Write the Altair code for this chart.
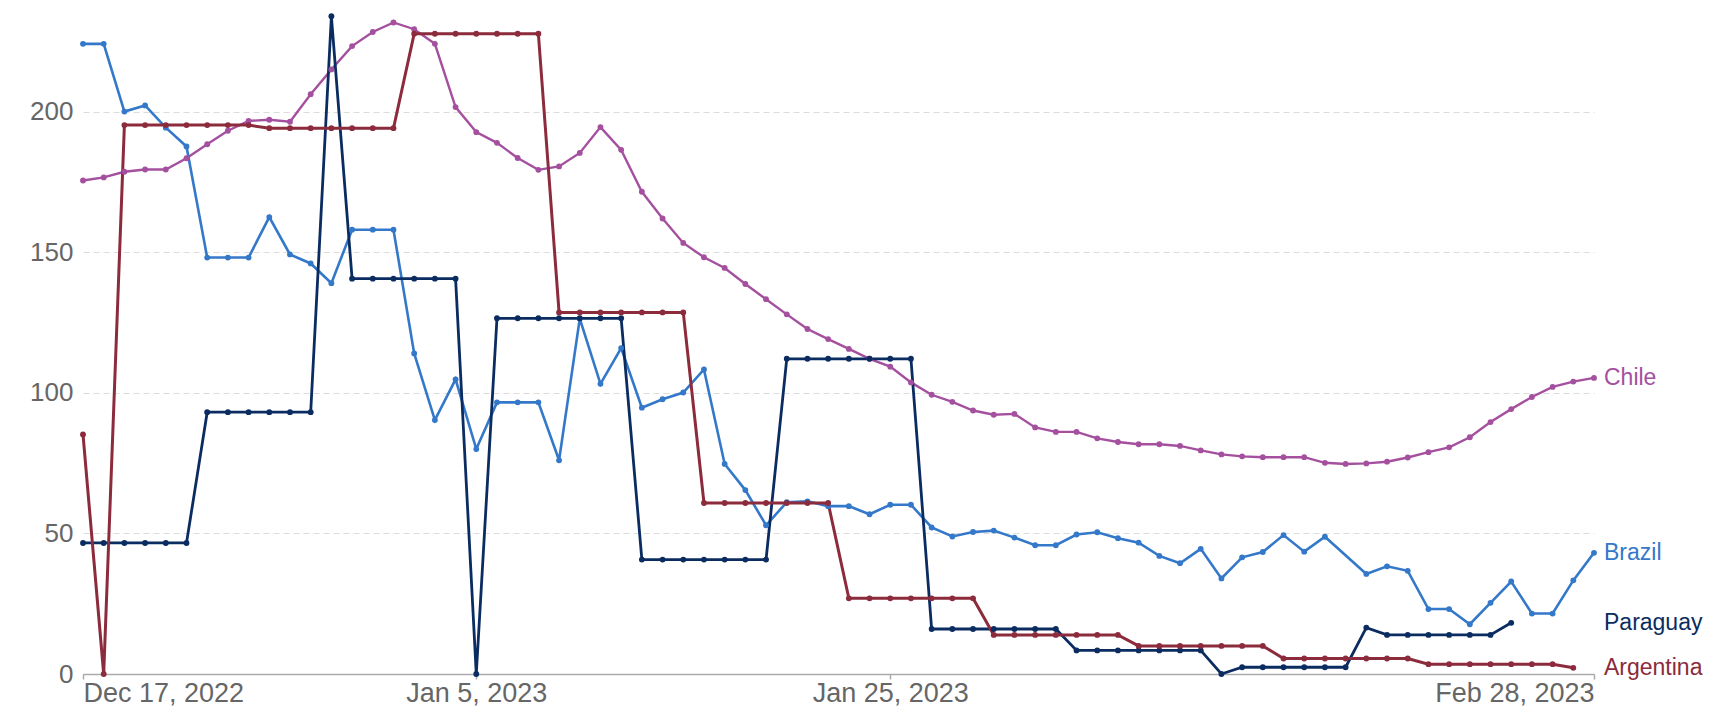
import altair as alt
import pandas as pd

# ---- data ----
start_date = "2022-12-17"
n_days = 74
dates = pd.date_range(start_date, periods=n_days, freq="D").strftime("%Y-%m-%d").tolist()

countries = ["Chile", "Brazil", "Paraguay", "Argentina"]
colors = ["#a4509f", "#3478c9", "#0b2c60", "#8c2b3c"]
line_widths = [2.4, 3.0, 3.0, 3.0]

chile = [175.5, 176.6, 178.6, 179.4, 179.4, 183.4, 188.4, 193.2, 196.7, 197.1,
         196.4, 206.2, 215.0, 223.3, 228.3, 231.7, 229.3, 224.1, 201.6, 192.7,
         188.9, 183.5, 179.3, 180.5, 185.3, 194.5, 186.4, 171.5, 162.0, 153.3,
         148.2, 144.4, 138.7, 133.3, 127.9, 122.7, 119.1, 115.6, 112.1, 109.3,
         103.7, 99.3, 96.8, 93.7, 92.2, 92.5, 87.7, 86.1, 86.1, 83.8,
         82.5, 81.7, 81.7, 81.1, 79.5, 78.1, 77.4, 77.1, 77.1, 77.1,
         75.1, 74.7, 74.9, 75.5, 77.0, 78.9, 80.6, 84.2, 89.6, 94.2,
         98.5, 102.1, 104.0, 105.3]

brazil = [224.1, 224.1, 200.0, 202.2, 194.3, 187.6, 148.1, 148.1, 148.1, 162.5,
          149.2, 146.0, 139.0, 158.0, 158.0, 158.0, 114.0, 90.3, 104.8, 80.0,
          96.6, 96.6, 96.6, 76.0, 126.4, 103.2, 115.9, 94.7, 97.7, 100.1,
          108.3, 74.7, 65.4, 52.9, 61.1, 61.4, 59.7, 59.7, 56.8, 60.2,
          60.2, 52.1, 48.9, 50.5, 51.0, 48.5, 45.8, 45.8, 49.6, 50.4,
          48.3, 46.7, 42.0, 39.4, 44.5, 34.0, 41.5, 43.4, 49.4, 43.5,
          48.8, None, 35.6, 38.3, 36.7, 23.1, 23.1, 17.7, 25.3, 32.9,
          21.5, 21.5, 33.3, 43.1]

paraguay = [46.6, 46.6, 46.6, 46.6, 46.6, 46.6, 93.1, 93.1, 93.1, 93.1,
            93.1, 93.1, 233.9, 140.6, 140.6, 140.6, 140.6, 140.6, 140.6, 0.0,
            126.5, 126.5, 126.5, 126.5, 126.5, 126.5, 126.5, 40.7, 40.7, 40.7,
            40.7, 40.7, 40.7, 40.7, 112.1, 112.1, 112.1, 112.1, 112.1, 112.1,
            112.1, 16.0, 16.0, 16.0, 16.0, 16.0, 16.0, 16.0, 8.4, 8.4,
            8.4, 8.4, 8.4, 8.4, 8.4, 0.0, 2.4, 2.4, 2.4, 2.4,
            2.4, 2.4, 16.5, 13.9, 13.9, 13.9, 13.9, 13.9, 13.9, 18.2,
            None, None, None, None]

argentina = [85.2, 0.0, 195.2, 195.2, 195.2, 195.2, 195.2, 195.2, 195.2, 194.1,
             194.1, 194.1, 194.1, 194.1, 194.1, 194.1, 227.7, 227.7, 227.7, 227.7,
             227.7, 227.7, 227.7, 128.6, 128.6, 128.6, 128.6, 128.6, 128.6, 128.6,
             60.8, 60.8, 60.8, 60.8, 60.8, 60.8, 60.8, 26.9, 26.9, 26.9,
             26.9, 26.9, 26.9, 26.9, 13.9, 13.9, 13.9, 13.9, 13.9, 13.9,
             13.9, 10.0, 10.0, 10.0, 10.0, 10.0, 10.0, 10.0, 5.5, 5.5,
             5.5, 5.5, 5.5, 5.5, 5.5, 3.5, 3.5, 3.5, 3.5, 3.5,
             3.5, 3.5, 2.2, None]

tick_dates = ["2022-12-17", "2023-01-05", "2023-01-25", "2023-02-28"]
y_ticks = [0, 50, 100, 150, 200]

# ---- tables ----
series = dict(zip(countries, [chile, brazil, paraguay, argentina]))
rows = []
for name, vals in series.items():
    for d, v in zip(dates, vals):
        if v is not None:
            rows.append({"date": d, "country": name, "value": v})
df = pd.DataFrame(rows)

last = df.groupby("country", sort=False).tail(1).copy()
last["label_date"] = dates[-1]


def dt(s):
    y, m, d = (int(p) for p in s.split("-"))
    return alt.DateTime(year=y, month=m, date=d, utc=True)


FONT = "Liberation Sans"
color_scale = alt.Scale(domain=countries, range=colors)
x_scale = alt.Scale(type="utc", domain=[dt(dates[0]), dt(dates[-1])])
y_scale = alt.Scale(domain=[0, 234], nice=False)

x_enc = alt.X(
    "date:T",
    scale=x_scale,
    axis=alt.Axis(
        values=[dt(s) for s in tick_dates],
        format="%b %-d, %Y",
        labelFlush=True,
        labelOverlap=False,
        grid=False,
        domainColor="#aaaaaa",
        domainWidth=1.5,
        tickColor="#aaaaaa",
        tickWidth=1.5,
        tickSize=5,
        labelPadding=1,
        labelFontSize=27,
        labelColor="#666666",
        labelFont=FONT,
        title=None,
    ),
)
y_enc = alt.Y(
    "value:Q",
    scale=y_scale,
    axis=alt.Axis(
        values=y_ticks,
        grid=True,
        gridDash=[6, 4],
        gridColor="#dcdcdc",
        gridWidth=1.2,
        domain=False,
        ticks=False,
        labelPadding=10,
        labelFontSize=26,
        labelColor="#666666",
        labelFont=FONT,
        minExtent=70,
        maxExtent=70,
        title=None,
    ),
)

lines = alt.Chart(df).mark_line(interpolate="linear").encode(
    x=x_enc,
    y=y_enc,
    color=alt.Color("country:N", scale=color_scale, legend=None),
    strokeWidth=alt.StrokeWidth(
        "country:N", scale=alt.Scale(domain=countries, range=line_widths), legend=None
    ),
    detail="country:N",
)

points = alt.Chart(df).mark_circle(size=34, opacity=1).encode(
    x="date:T",
    y="value:Q",
    color=alt.Color("country:N", scale=color_scale, legend=None),
)

labels = alt.Chart(last).mark_text(
    align="left", baseline="middle", dx=10, fontSize=23, font=FONT
).encode(
    x="label_date:T",
    y="value:Q",
    text="country:N",
    color=alt.Color("country:N", scale=color_scale, legend=None),
)

chart = (
    alt.layer(lines, points, labels)
    .properties(
        width=1511,
        height=658,
        padding={"left": 5, "top": 2, "right": 5, "bottom": 0},
        background="white",
    )
    .configure(font=FONT, view=alt.ViewConfig(stroke=None))
)

chart.save("out.html", embed_options={"renderer": "svg", "actions": False})
